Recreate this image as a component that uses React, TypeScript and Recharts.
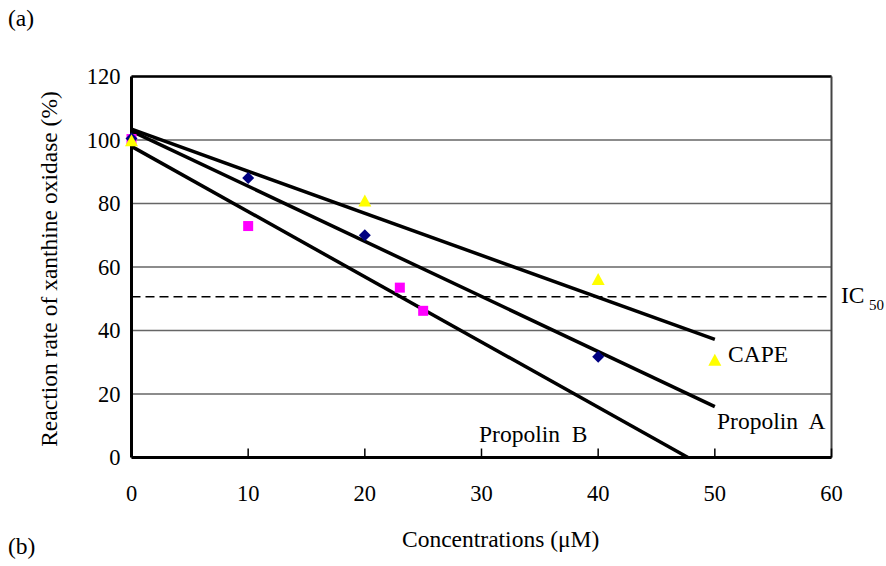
import React from 'react';
import {
  ComposedChart,
  XAxis,
  YAxis,
  CartesianGrid,
  Scatter,
  Line,
  ReferenceLine,
} from 'recharts';

// measured points
const concA = [0, 10, 20, 40];
const propolinA = [100.5, 88, 70, 31.7];
const concB = [0, 10, 23, 25];
const propolinB = [100.3, 72.9, 53.5, 46.2];
const concCape = [0, 20, 40, 50];
const cape = [99.6, 80.6, 55.9, 30.5];

// linear trend lines (end points)
const trendAx = [0, 50];
const trendAy = [102.8, 16.0];
const trendBx = [0, 47.7];
const trendBy = [98.0, 0];
const trendCx = [0, 50];
const trendCy = [103.4, 37.2];

const ic50 = 50.6;
const xTicks = [0, 10, 20, 30, 40, 50, 60];
const yTicks = [0, 20, 40, 60, 80, 100, 120];

const toPts = (xs: number[], ys: number[]) => xs.map((x, i) => ({ x, y: ys[i] }));

const FONT = '"Liberation Serif", "Times New Roman", serif';

const Triangle = (p: any) => (
  <polygon
    points={`${p.cx},${p.cy - 7} ${p.cx - 6.5},${p.cy + 5} ${p.cx + 6.5},${p.cy + 5}`}
    fill="#FFFF00"
  />
);
const Square = (p: any) => <rect x={p.cx - 5} y={p.cy - 5} width={10} height={10} fill="#FF00FF" />;
const Diamond = (p: any) => (
  <polygon
    points={`${p.cx},${p.cy - 6} ${p.cx + 6},${p.cy} ${p.cx},${p.cy + 6} ${p.cx - 6},${p.cy}`}
    fill="#000080"
  />
);

const XTick = (p: any) => {
  const v = p.payload.value;
  return (
    <g>
      {v > 0 && <line x1={p.x} x2={p.x} y1={p.y} y2={p.y - 9} stroke="#000" strokeWidth={1.5} />}
      <text x={p.x} y={p.y + 43} textAnchor="middle" fontSize={22.5} fontFamily={FONT} fill="#000">
        {v}
      </text>
    </g>
  );
};

const YTick = (p: any) => (
  <text x={p.x - 11} y={p.y + 7.5} textAnchor="end" fontSize={22.5} fontFamily={FONT} fill="#000">
    {p.payload.value}
  </text>
);

export default function App() {
  const txt = { fontSize: 23.5, fontFamily: FONT, fill: '#000' };
  return (
    <div style={{ position: 'absolute', left: 0, top: 0, width: 886, height: 566, background: '#fff' }}>
      <ComposedChart
        width={886}
        height={566}
        margin={{ top: 76.5, right: 54.5, bottom: 78.5, left: 71.5 }}
      >
        <CartesianGrid vertical={false} stroke="#666" strokeWidth={1.5} />
        <XAxis
          type="number"
          dataKey="x"
          domain={[0, 60]}
          ticks={xTicks}
          height={30}
          axisLine={{ stroke: '#000', strokeWidth: 3 }}
          tickLine={false}
          tickSize={0}
          tickMargin={0}
          tick={<XTick />}
        />
        <YAxis
          type="number"
          dataKey="y"
          domain={[0, 120]}
          ticks={yTicks}
          width={60}
          axisLine={{ stroke: '#000', strokeWidth: 3 }}
          tickLine={false}
          tickSize={0}
          tickMargin={0}
          tick={<YTick />}
        />
        <ReferenceLine y={120} stroke="#000" strokeWidth={2.5} />
        <ReferenceLine x={60} stroke="#444" strokeWidth={2} />
        <ReferenceLine y={ic50} stroke="#000" strokeWidth={1.5} strokeDasharray="9 5" />
        <Scatter data={toPts(concB, propolinB)} shape={<Square />} isAnimationActive={false} />
        <Scatter data={toPts(concA, propolinA)} shape={<Diamond />} isAnimationActive={false} />
        <Scatter data={toPts(concCape, cape)} shape={<Triangle />} isAnimationActive={false} />
        <Line data={toPts(trendCx, trendCy)} dataKey="y" type="linear" stroke="#000" strokeWidth={3.5} dot={false} activeDot={false} isAnimationActive={false} />
        <Line data={toPts(trendAx, trendAy)} dataKey="y" type="linear" stroke="#000" strokeWidth={3.5} dot={false} activeDot={false} isAnimationActive={false} />
        <Line data={toPts(trendBx, trendBy)} dataKey="y" type="linear" stroke="#000" strokeWidth={3.5} dot={false} activeDot={false} isAnimationActive={false} />
      </ComposedChart>
      <svg
        width={886}
        height={566}
        style={{ position: 'absolute', left: 0, top: 0, pointerEvents: 'none' }}
      >
        <text x={8} y={26} {...txt}>(a)</text>
        <text x={8} y={554} {...txt}>(b)</text>
        <text x={402} y={546.5} {...txt}>Concentrations (μM)</text>
        <text x={57} y={269} textAnchor="middle" transform="rotate(-90 57 269)" {...txt}>
          Reaction rate of xanthine oxidase (%)
        </text>
        <text x={728} y={361.5} {...txt}>CAPE</text>
        <text x={717} y={428.5} {...txt} style={{ whiteSpace: 'pre' }}>Propolin  A</text>
        <text x={479} y={441.5} {...txt} style={{ whiteSpace: 'pre' }}>Propolin  B</text>
        <text x={841} y={303} {...txt}>IC</text>
        <text x={869} y={310} fontSize={15} fontFamily={FONT} fill="#000">50</text>
      </svg>
    </div>
  );
}
